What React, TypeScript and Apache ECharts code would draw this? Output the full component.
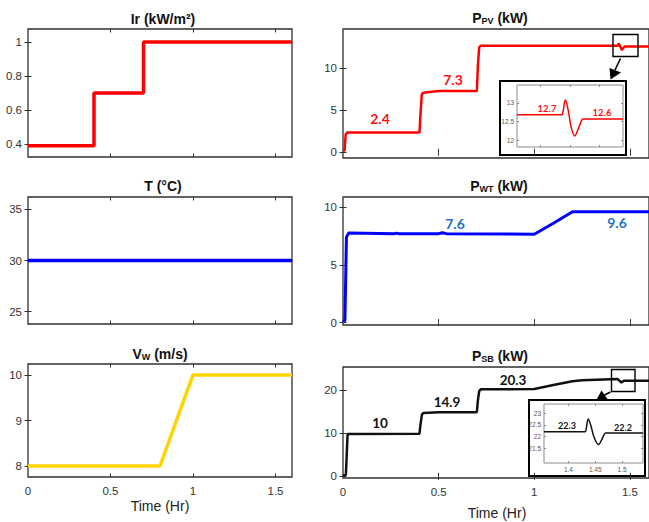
import React, { useEffect, useRef } from "react";
import * as echarts from "echarts";

// ---- data ----
const irTime = [0, 0.4, 0.4, 0.7, 0.7, 1.6];
const irValues = [0.39, 0.39, 0.7, 0.7, 1, 1];

const tTime = [0, 1.6];
const tValues = [30, 30];

const vwTime = [0, 0.8, 1.0, 1.6];
const vwValues = [8, 8, 10, 10];

const pvTime = [0, 0.008, 0.014, 0.022, 0.4, 0.405, 0.412, 0.42, 0.5, 0.7, 0.705, 0.712, 0.72, 1.438, 1.441, 1.45, 1.458, 1.472, 1.6];
const pvValues = [0.15, 0.2, 2.1, 2.35, 2.35, 4.5, 6.9, 7.1, 7.3, 7.3, 10.2, 12.5, 12.7, 12.7, 13.0, 12.6, 12.2, 12.6, 12.6];

const wtTime = [0, 0.01, 0.018, 0.03, 0.27, 0.28, 0.29, 0.5, 0.52, 0.54, 1.0, 1.1, 1.2, 1.6];
const wtValues = [0.1, 0.2, 7.4, 7.75, 7.7, 7.75, 7.7, 7.7, 7.78, 7.7, 7.65, 8.6, 9.6, 9.6];

const sbTime = [0, 0.015, 0.024, 0.4, 0.405, 0.413, 0.42, 0.5, 0.7, 0.705, 0.712, 0.72, 1.0, 1.1, 1.2, 1.25, 1.437, 1.446, 1.456, 1.469, 1.6];
const sbValues = [0.2, 0.3, 9.8, 9.9, 12, 14.4, 14.7, 14.9, 14.9, 17.5, 19.8, 20.2, 20.3, 21.2, 22.1, 22.3, 22.6, 22.2, 21.8, 22.2, 22.2];

const pvZoomTime = [1.36, 1.436, 1.438, 1.442, 1.447, 1.452, 1.458, 1.465, 1.472, 1.474, 1.54];
const pvZoomValues = [12.68, 12.68, 12.75, 13.07, 12.8, 12.35, 12.12, 12.35, 12.57, 12.57, 12.57];

const sbZoomTime = [1.3545, 1.431, 1.433, 1.437, 1.442, 1.448, 1.456, 1.463, 1.469, 1.471, 1.539];
const sbZoomValues = [22.2, 22.2, 22.3, 22.75, 22.45, 21.95, 21.65, 21.9, 22.15, 22.15, 22.15];

const xTicks = [0.5, 1, 1.5];
const xLabels = [0, 0.5, 1, 1.5];
const irTicks = [0.4, 0.6, 0.8, 1];
const tTicks = [25, 30, 35];
const vwTicks = [8, 9, 10];
const pvTicks = [0, 5, 10];
const wtTicks = [0, 5, 10];
const sbTicks = [0, 10, 20];
const pvZoomYTicks = [12, 12.5, 13];
const sbZoomYTicks = [21.5, 22, 22.5, 23];
const zoomXTicks = [1.4, 1.45, 1.5];

const zip = (a: number[], b: number[]) => a.map((t, i) => [t, b[i]]);

const FONT = "Liberation Sans, Arial, sans-serif";
const LFONT = "Lato, Open Sans, sans-serif";

type Panel = {
  grid: { left: number; top: number; width: number; height: number };
  xr: [number, number];
  yr: [number, number];
  xt: number[];
  xl: number[] | null;
  yt: number[];
  data: number[][];
  color: string;
  width: number;
  inset?: boolean;
};

const panels: Panel[] = [
  { grid: { left: 28, top: 29, width: 264, height: 128 }, xr: [0, 1.6], yr: [0.324, 1.076], xt: xTicks, xl: null, yt: irTicks, data: zip(irTime, irValues), color: "#ff0000", width: 3.5 },
  { grid: { left: 343, top: 29, width: 309, height: 129 }, xr: [0, 1.6], yr: [-0.7, 14.7], xt: xTicks, xl: null, yt: pvTicks, data: zip(pvTime, pvValues), color: "#ff0000", width: 2.5 },
  { grid: { left: 28, top: 197, width: 264, height: 127 }, xr: [0, 1.6], yr: [23.8, 36.2], xt: xTicks, xl: null, yt: tTicks, data: zip(tTime, tValues), color: "#0000ff", width: 3.5 },
  { grid: { left: 343, top: 197, width: 309, height: 128 }, xr: [0, 1.6], yr: [-0.2, 10.87], xt: xTicks, xl: null, yt: wtTicks, data: zip(wtTime, wtValues), color: "#0000ff", width: 3 },
  { grid: { left: 28, top: 364, width: 264, height: 113 }, xr: [0, 1.6], yr: [7.76, 10.24], xt: xTicks, xl: xLabels, yt: vwTicks, data: zip(vwTime, vwValues), color: "#ffd400", width: 3.5 },
  { grid: { left: 343, top: 367, width: 309, height: 111 }, xr: [0, 1.6], yr: [-0.4, 25.4], xt: xTicks, xl: xLabels, yt: sbTicks, data: zip(sbTime, sbValues), color: "#111111", width: 2.5 },
  { grid: { left: 517, top: 85, width: 106, height: 62 }, xr: [1.36, 1.54], yr: [11.83, 13.47], xt: zoomXTicks, xl: null, yt: pvZoomYTicks, data: zip(pvZoomTime, pvZoomValues), color: "#ff0000", width: 1.5, inset: true },
  { grid: { left: 544, top: 404, width: 99, height: 59 }, xr: [1.3545, 1.539], yr: [20.86, 23.39], xt: zoomXTicks, xl: zoomXTicks, yt: sbZoomYTicks, data: zip(sbZoomTime, sbZoomValues), color: "#111111", width: 1.5, inset: true },
];

function buildOption() {
  const grid: any[] = [];
  const xAxis: any[] = [];
  const yAxis: any[] = [];
  const series: any[] = [];
  panels.forEach((p, i) => {
    const border = p.inset ? "#8a8a8a" : "#303030";
    grid.push({ ...p.grid, show: true, borderColor: border, borderWidth: p.inset ? 1 : 1.3, backgroundColor: "#ffffff", containLabel: false });
    const tickLen = p.inset ? 2 : 3.5;
    const lblSize = p.inset ? 6.5 : 11.5;
    const lblColor = p.inset ? "#555" : "#333";
    const mkX = (pos: string, labels: boolean) => ({
      type: "value", gridIndex: i, position: pos, min: p.xr[0], max: p.xr[1],
      axisLine: { show: false }, splitLine: { show: false },
      axisTick: { show: true, inside: true, length: tickLen, customValues: p.xt, lineStyle: { color: border } },
      axisLabel: labels && p.xl ? { show: true, customValues: p.xl, fontSize: lblSize, color: lblColor, fontFamily: FONT, margin: p.inset ? 3 : 8 } : { show: false, customValues: p.xt },
    });
    const mkY = (pos: string, labels: boolean) => ({
      type: "value", gridIndex: i, position: pos, min: p.yr[0], max: p.yr[1],
      axisLine: { show: false }, splitLine: { show: false },
      axisTick: { show: true, inside: true, length: tickLen, customValues: p.yt, lineStyle: { color: border } },
      axisLabel: labels ? { show: true, customValues: p.yt, fontSize: lblSize, color: lblColor, fontFamily: FONT, margin: p.inset ? 3 : 6 } : { show: false, customValues: p.yt },
    });
    xAxis.push(mkX("bottom", true));
    xAxis.push(mkX("top", false));
    yAxis.push(mkY("left", true));
    yAxis.push(mkY("right", false));
    series.push({
      type: "line", xAxisIndex: 2 * i, yAxisIndex: 2 * i, data: p.data, showSymbol: false, symbol: "none",
      smooth: p.inset ? 0.35 : false,
      lineStyle: { color: p.color, width: p.width }, clip: true, z: 3,
    });
  });

  const title = (x: number, y: number, rich: string) => ({
    type: "text", x, y, z: 10,
    style: {
      text: rich, align: "center", verticalAlign: "middle",
      rich: {
        b: { fontFamily: FONT, fontWeight: "bold", fontSize: 14, fill: "#111", lineHeight: 16, verticalAlign: "bottom" },
        s: { fontFamily: FONT, fontWeight: "bold", fontSize: 9, fill: "#111", lineHeight: 10, verticalAlign: "bottom" },
      },
    },
  });
  const label = (x: number, y: number, text: string, color: string, size: number) => ({
    type: "text", x, y, z: 10,
    style: { text, fill: color, fontFamily: LFONT, fontWeight: "bold", fontSize: size, align: "center", verticalAlign: "middle" },
  });

  const graphic: any[] = [
    title(163, 18, "{b|Ir (kW/m²)}"),
    title(500, 17, "{b|P}{s|PV}{b| (kW)}"),
    title(163, 185, "{b|T (°C)}"),
    title(499, 185, "{b|P}{s|WT}{b| (kW)}"),
    title(160, 353, "{b|V}{s|W}{b| (m/s)}"),
    title(500, 355, "{b|P}{s|SB}{b| (kW)}"),
    { type: "text", x: 160, y: 506, z: 10, style: { text: "Time (Hr)", fontFamily: FONT, fontSize: 14, fill: "#222", align: "center", verticalAlign: "middle" } },
    { type: "text", x: 497, y: 513, z: 10, style: { text: "Time (Hr)", fontFamily: FONT, fontSize: 14, fill: "#222", align: "center", verticalAlign: "middle" } },
    // inset frames
    { type: "rect", z: 1, shape: { x: 500, y: 81, width: 126, height: 74 }, style: { fill: "none", stroke: "#000", lineWidth: 2 } },
    { type: "rect", z: 1, shape: { x: 529, y: 400, width: 116, height: 76 }, style: { fill: "none", stroke: "#000", lineWidth: 2 } },
    // highlight boxes
    { type: "rect", z: 10, shape: { x: 613, y: 34.5, width: 25, height: 22 }, style: { fill: "none", stroke: "#000", lineWidth: 1.4 } },
    { type: "rect", z: 10, shape: { x: 611.5, y: 369.5, width: 23.5, height: 22 }, style: { fill: "none", stroke: "#000", lineWidth: 1.4 } },
    // arrows
    { type: "line", z: 10, shape: { x1: 620.5, y1: 58.5, x2: 615, y2: 70 }, style: { stroke: "#000", lineWidth: 1.6 } },
    { type: "polygon", z: 10, shape: { points: [[610.5, 79.5], [609.5, 68], [621, 72.5]] }, style: { fill: "#000" } },
    { type: "line", z: 10, shape: { x1: 610.5, y1: 392, x2: 604.5, y2: 395 }, style: { stroke: "#000", lineWidth: 1.6 } },
    { type: "polygon", z: 10, shape: { points: [[596.5, 399.5], [601.5, 390.5], [607.5, 399]] }, style: { fill: "#000" } },
    // value labels
    label(380, 118, "2.4", "#ff1010", 14),
    label(453, 79, "7.3", "#ff1010", 14),
    label(547, 108, "12.7", "#ff1010", 9.5),
    label(602, 112, "12.6", "#ff1010", 9.5),
    label(455, 223, "7.6", "#1a73c8", 14),
    label(617, 222, "9.6", "#1a73c8", 14),
    label(380, 423, "10", "#111", 13.5),
    label(447, 402, "14.9", "#111", 13.5),
    label(513, 380, "20.3", "#111", 13.5),
    label(567, 425, "22.3", "#111", 9),
    label(623, 427, "22.2", "#111", 9),
  ];

  return { animation: false, backgroundColor: "#ffffff", grid, xAxis, yAxis, series, graphic };
}

export default function App() {
  const ref = useRef<HTMLDivElement>(null);
  useEffect(() => {
    if (!ref.current) return;
    const chart = echarts.init(ref.current, undefined, { renderer: "svg" });
    chart.setOption(buildOption() as any);
    return () => chart.dispose();
  }, []);
  return <div ref={ref} style={{ position: "absolute", left: 0, top: 0, width: 649, height: 522 }} />;
}
